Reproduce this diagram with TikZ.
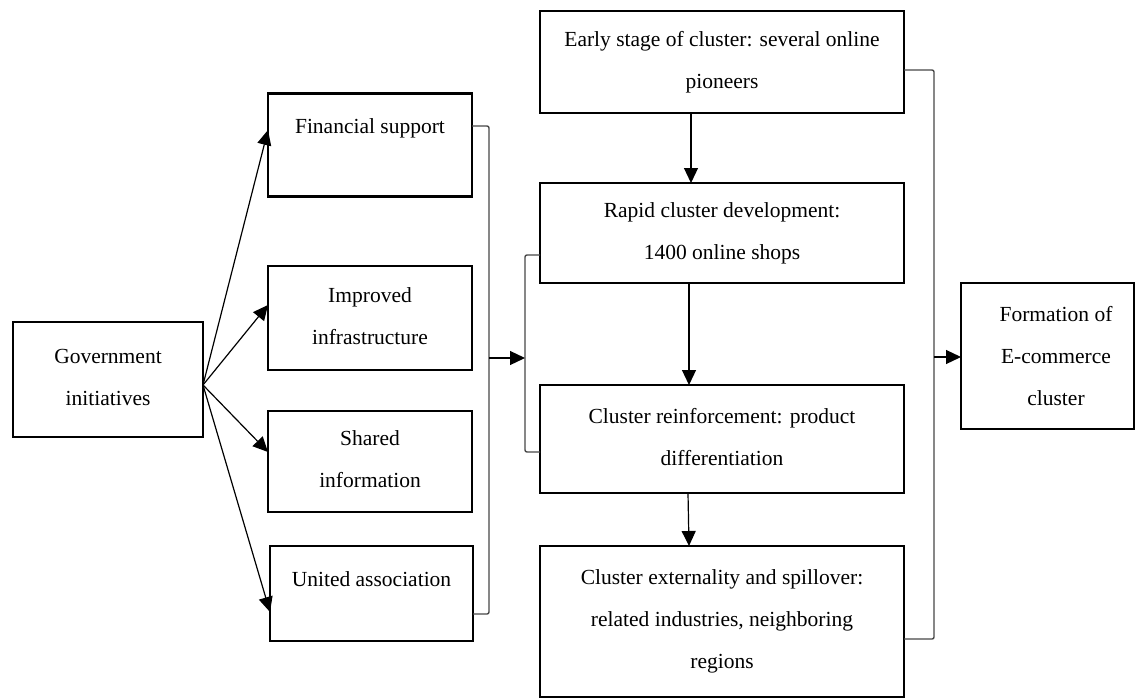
\documentclass[tikz,border=0pt]{standalone}
\usepackage{fontspec}
\setmainfont{Liberation Serif}
\usetikzlibrary{arrows.meta}
\newcommand\ls{\rule[-4.7pt]{0pt}{19.7pt}}
\tikzset{
  box/.style={draw=black, line width=2.6pt, inner sep=0pt, outer sep=0pt, align=center,
    font=\fontsize{21.5}{42}\selectfont},
  txt/.style={inner sep=0pt, align=center, font=\fontsize{21.5}{42}\selectfont},
  arr/.style={draw=black, line width=1.2pt, -{Triangle[length=15pt,width=14pt]}},
  brk/.style={draw=black!72, line width=1.4pt, rounded corners=2pt}
}
\begin{document}
\begin{tikzpicture}[x=1pt,y=-1pt]
\useasboundingbox (0,0) rectangle (1144,699);
% left
\node[box, minimum width=190pt, minimum height=115pt] (gov) at (108,379.5) {\ls Government\\ \ls initiatives};
\node[box, minimum width=204pt, minimum height=103pt] (fin) at (370,145) {};
\node[txt] (finT) at (370,128) {\ls Financial support};
\node[box, minimum width=204pt, minimum height=104pt] (imp) at (370,318) {\ls Improved\\ \ls infrastructure};
\node[box, minimum width=204pt, minimum height=101pt] (sha) at (370,461.5) {\ls Shared\\ \ls information};
\node[box, minimum width=203pt, minimum height=95pt] (uni) at (371.5,593.5) {};
\node[txt] (uniT) at (371.5,581) {\ls United association};
% middle
\node[box, minimum width=364pt, minimum height=102pt] (early) at (722,62) {\ls Early stage of cluster: several online\\ \ls pioneers};
\node[box, minimum width=364pt, minimum height=100pt] (rapid) at (722,233) {\ls Rapid cluster development:\\ \ls 1400 online shops};
\node[box, minimum width=364pt, minimum height=108pt] (reinf) at (722,439) {\ls Cluster reinforcement: product\\ \ls differentiation};
\node[box, minimum width=364pt, minimum height=151pt] (ext) at (722,621.5) {\ls Cluster externality and spillover:\\ \ls related industries, neighboring\\ \ls regions};
% right
\node[box, minimum width=173pt, minimum height=146pt] (form) at (1047.5,356) {};
\node[txt] (formT) at (1056,358) {\ls Formation of\\ \ls E-commerce\\ \ls cluster};
% arrows from government
\draw[arr] ([yshift=-5.5pt]gov.east) -- ([yshift=15pt]fin.west);
\draw[arr] ([yshift=-5.5pt]gov.east) -- ([yshift=13pt]imp.west);
\draw[arr] ([yshift=-5.5pt]gov.east) -- ([yshift=9.5pt]sha.west);
\draw[arr] ([yshift=-5.5pt]gov.east) -- ([yshift=-18.5pt]uni.west);
% vertical arrows
\draw[arr] ([xshift=-31pt]early.south) -- ([xshift=-31pt]rapid.north);
\draw[arr] ([xshift=-33pt]rapid.south) -- ([xshift=-33pt]reinf.north);
\draw[arr] ([xshift=-34pt]reinf.south) -- ([xshift=-33pt]ext.north);
% left bracket
\draw[brk] ([yshift=19pt]fin.east) -- ++(17pt,0) |- ([yshift=-20.5pt]uni.east);
\coordinate (lbm) at (489,358);
% middle bracket
\draw[brk] ([yshift=-22pt]rapid.west) -- ++(-15pt,0) |- ([yshift=-13pt]reinf.west);
\coordinate (mbm) at (525,358);
\draw[arr] (lbm) -- (mbm);
% right bracket
\draw[brk] ([yshift=-8pt]early.east) -- ++(30pt,0) |- ([yshift=-17.5pt]ext.east);
\coordinate (rbm) at (934,357);
\draw[arr] (rbm) -- ([yshift=-1pt]form.west);
\end{tikzpicture}
\end{document}
